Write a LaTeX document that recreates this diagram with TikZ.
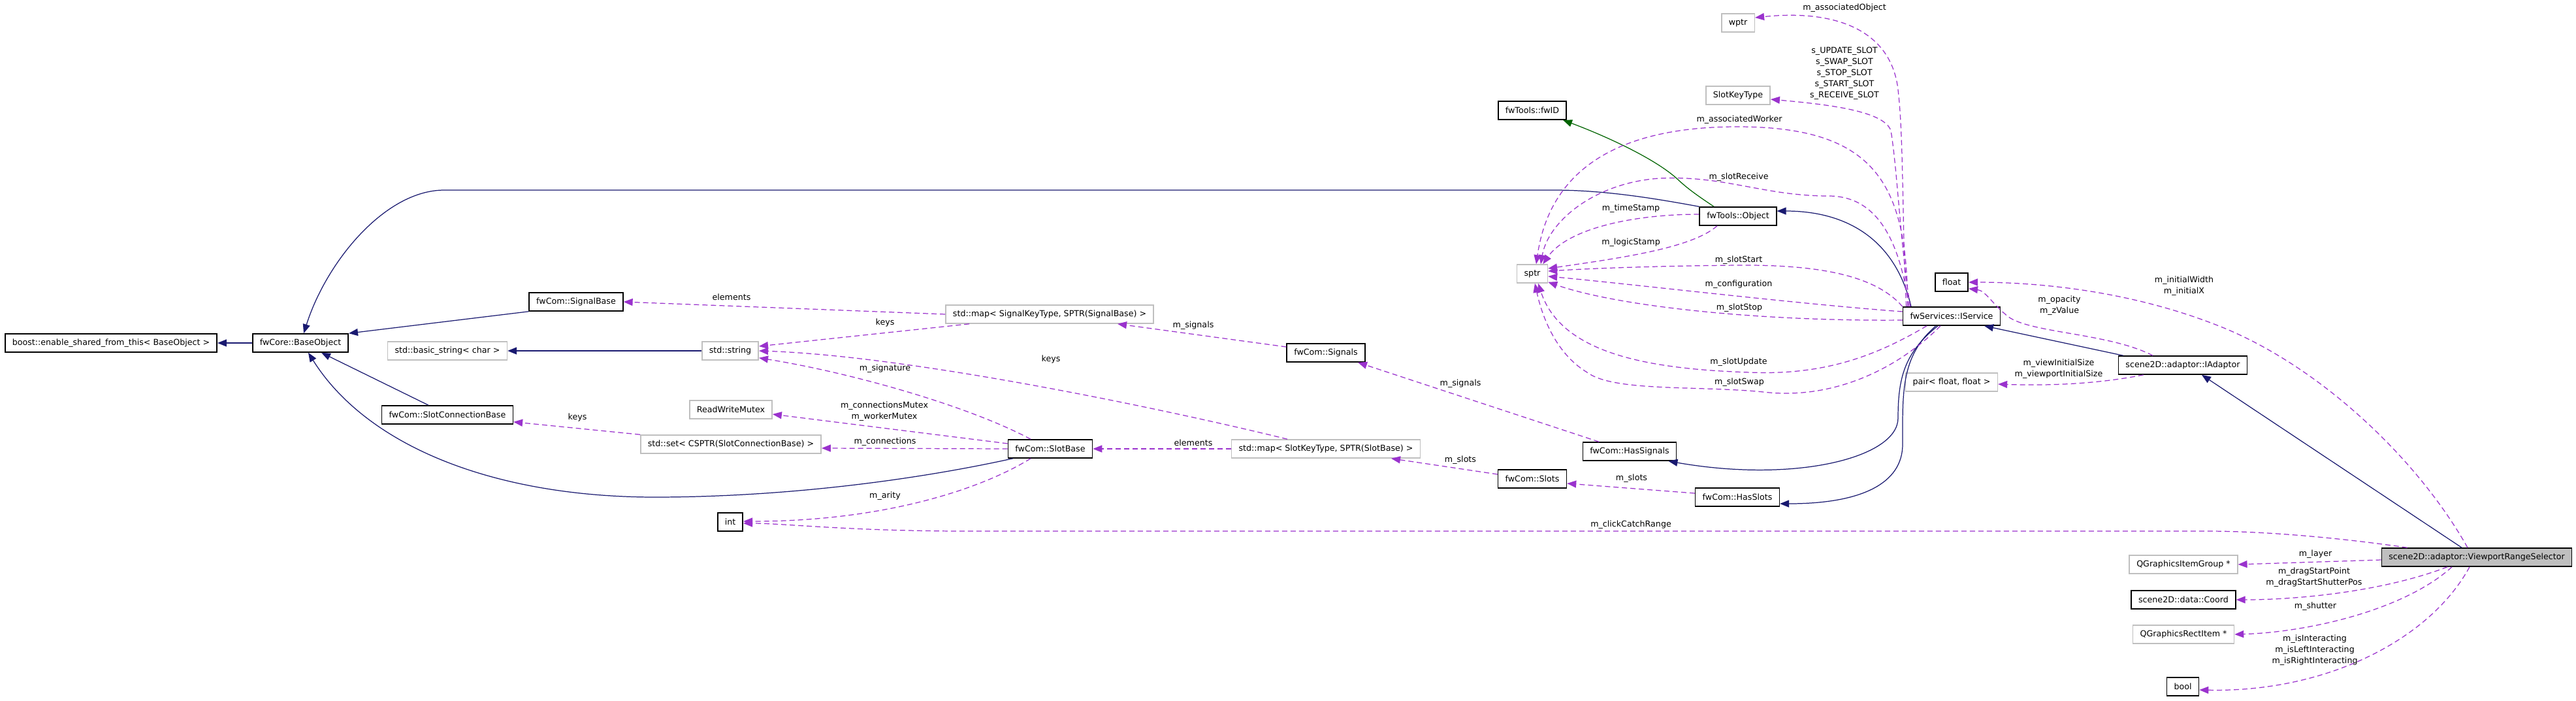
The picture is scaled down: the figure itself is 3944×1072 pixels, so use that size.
\documentclass[tikz,border=0pt]{standalone}
\usepackage{fontspec}
\setmainfont{DejaVu Sans}
\usetikzlibrary{arrows.meta, calc}
\definecolor{inhblue}{HTML}{191970}
\definecolor{inhgreen}{HTML}{006400}
\definecolor{usepurple}{HTML}{9A32CD}
\definecolor{boxgray}{HTML}{BFBFBF}

\begin{document}
\begin{tikzpicture}[x=0.1mm, y=-0.1mm,
    font=\fontsize{3.6}{4.85}\selectfont,
    class box/.style =
        {
            draw=black, line width=0.45pt, fill=white,
            minimum height=2.8mm, inner xsep=1.1mm, inner ysep=0pt
        },
    type box/.style = {class box, draw=boxgray},
    inherit line/.style =
        {
            draw=inhblue, line width=0.35pt,
            -{Stealth[length=1.4mm, width=1.1mm, inset=0pt]}
        },
    protected line/.style = {inherit line, draw=inhgreen},
    member line/.style =
        {
            draw=usepurple, line width=0.35pt, dash pattern=on 0.8mm off 0.5mm,
            -{Stealth[length=1.4mm, width=1.1mm, inset=0pt]}
        },
    member label/.style = {inner sep=0pt, align=center}]

      \path[fill=white, use as bounding box] (0,0) rectangle (3944,1072);

      % classes
      \node[class box] (boost) at (170,525) {boost::enable\_shared\_from\_this< BaseObject >};
      \node[class box] (baseobject) at (460,525) {fwCore::BaseObject};
      \node[class box] (signalbase) at (882,462) {fwCom::SignalBase};
      \node[type box] (basicstring) at (685,537) {std::basic\_string< char >};
      \node[class box] (slotconn) at (685,635) {fwCom::SlotConnectionBase};
      \node[type box] (stdstring) at (1118,537) {std::string};
      \node[type box] (mapsignal) at (1607,481) {std::map< SignalKeyType, SPTR(SignalBase) >};
      \node[type box] (rwmutex) at (1119,627) {ReadWriteMutex};
      \node[type box] (stdset) at (1119,680) {std::set< CSPTR(SlotConnectionBase) >};
      \node[class box] (slotbase) at (1608,687) {fwCom::SlotBase};
      \node[type box] (mapslot) at (2030,687) {std::map< SlotKeyType, SPTR(SlotBase) >};
      \node[class box] (int) at (1118,799) {int};
      \node[class box] (signals) at (2030,540) {fwCom::Signals};
      \node[class box] (hassignals) at (2495,691) {fwCom::HasSignals};
      \node[class box] (slots) at (2346,733) {fwCom::Slots};
      \node[class box] (hasslots) at (2660,761) {fwCom::HasSlots};
      \node[type box] (sptr) at (2346,419) {sptr};
      \node[class box] (fwid) at (2346,169) {fwTools::fwID};
      \node[class box] (object) at (2661,331) {fwTools::Object};
      \node[type box] (wptr) at (2661,35) {wptr};
      \node[type box] (slotkeytype) at (2661,146) {SlotKeyType};
      \node[class box] (iservice) at (2988,484) {fwServices::IService};
      \node[class box] (float) at (2988,432) {float};
      \node[type box] (pair) at (2988,585) {pair< float, float >};
      \node[class box] (iadaptor) at (3342,559) {scene2D::adaptor::IAdaptor};
      \node[class box, fill=boxgray] (viewport) at (3792,853) {scene2D::adaptor::ViewportRangeSelector};
      \node[type box] (qgigroup) at (3343,864) {QGraphicsItemGroup *};
      \node[class box] (coord) at (3343,918) {scene2D::data::Coord};
      \node[type box] (rectitem) at (3343,971) {QGraphicsRectItem *};
      \node[class box] (bool) at (3342,1051) {bool};

      % inheritance
      \draw[inherit line] (baseobject.west) -- (boost.east);
      \draw[inherit line] (signalbase.south west) -- (baseobject.north east);
      \draw[inherit line] (object.north west) .. controls (2540,305) and (2460,291) .. (2380,291)
            -- (680,291) .. controls (590,291) and (500,400) .. ($(baseobject.north)+(5,0)$);
      \draw[inherit line] (stdstring.west) -- (basicstring.east);
      \draw[inherit line] ($(slotconn.north)+(-29,0)$) -- ($(baseobject.south)+(32,0)$);
      \draw[inherit line] ($(slotbase.south west)+(8,0)$) .. controls (1400,735) and (1200,761) .. (1000,761)
            .. controls (750,760) and (560,680) .. ($(baseobject.south)+(12,0)$);
      \draw[inherit line] ($(iservice.north)+(-62,0)$) .. controls (2900,360) and (2820,323) .. ($(object.east)+(0,-8)$);
      \draw[inherit line] ($(iadaptor.north west)+(8,0)$) -- ($(iservice.south)+(50,0)$);
      \draw[inherit line] ($(iservice.south)+(-21,0)$) .. controls (2915,540) and (2906,580) .. (2906,640)
            .. controls (2906,700) and (2750,740) .. ($(hassignals.south east)+(-13,0)$);
      \draw[inherit line] ($(iservice.south)+(-24,0)$) .. controls (2910,545) and (2913,600) .. (2913,680)
            .. controls (2913,740) and (2850,771) .. ($(hasslots.east)+(0,10)$);
      \draw[inherit line] ($(viewport.north)+(-23,0)$) -- ($(iadaptor.south)+(29,0)$);
      \draw[protected line] ($(object.north)+(-37,0)$) .. controls (2600,300) and (2585,290) .. (2567,273)
            .. controls (2530,240) and (2450,205) .. ($(fwid.south east)+(-6,0)$);

      % members of the signal and slot classes
      \draw[member line] (mapsignal.west) -- (signalbase.east)
            node[member label] at (1120,455) {elements};
      \draw[member line] ($(mapsignal.south west)+(37,0)$) -- ($(stdstring.east)+(0,-7)$)
            node[member label] at (1355,494) {keys};
      \draw[member line] ($(signals.west)+(0,-9)$) -- ($(mapsignal.south)+(104,0)$)
            node[member label] at (1827,498) {m\_signals};
      \draw[member line] ($(hassignals.north)+(-47,0)$) -- ($(signals.south)+(49,0)$)
            node[member label] at (2236,587) {m\_signals};
      \draw[member line] (stdset.north west) -- ($(slotconn.south east)+(0,-4)$)
            node[member label] at (884,639) {keys};
      \draw[member line] ($(slotbase.north)+(-30,0)$) .. controls (1480,620) and (1300,570) .. ($(stdstring.south east)+(0,-4)$)
            node[member label] at (1355,564) {m\_signature};
      \draw[member line] ($(slotbase.west)+(0,-8)$) -- ($(rwmutex.east)+(0,7)$)
            node[member label] at (1354,630) {m\_connectionsMutex\\m\_workerMutex};
      \draw[member line] (slotbase.west) -- ($(stdset.east)+(0,6)$)
            node[member label] at (1355,676) {m\_connections};
      \draw[member line] (mapslot.west) -- (slotbase.east)
            node[member label] at (1827,678) {elements};
      \draw[member line] ($(mapslot.north)+(-59,0)$) .. controls (1800,630) and (1400,545) .. (stdstring.east)
            node[member label] at (1609,550) {keys};
      \draw[member line] ($(slotbase.south)+(-30,0)$) .. controls (1500,750) and (1350,798) .. ($(int.east)+(0,-1)$)
            node[member label] at (1355,759) {m\_arity};
      \draw[member line] ($(viewport.north west)+(40,0)$) .. controls (3560,820) and (3450,813) .. (3380,813)
            -- (1480,813) .. controls (1300,813) and (1200,801) .. ($(int.east)+(0,2)$)
            node[member label] at (2497,803) {m\_clickCatchRange};
      \draw[member line] ($(slots.west)+(0,-7)$) -- ($(mapslot.south)+(100,0)$)
            node[member label] at (2236,704) {m\_slots};
      \draw[member line] ($(hasslots.west)+(0,-6)$) -- ($(slots.east)+(0,7)$)
            node[member label] at (2498,732) {m\_slots};

      % members pointing at sptr
      \draw[member line] ($(iservice.north west)+(8,0)$) .. controls (2920,280) and (2870,194) .. (2660,194)
            .. controls (2450,194) and (2370,280) .. ($(sptr.north)+(6,0)$)
            node[member label] at (2663,183) {m\_associatedWorker};
      \draw[member line] ($(iservice.north west)+(10,0)$) .. controls (2910,380) and (2880,300) .. (2800,300)
            .. controls (2700,300) and (2640,268) .. (2540,273)
            .. controls (2440,280) and (2370,340) .. ($(sptr.north)+(13,0)$)
            node[member label] at (2662,271) {m\_slotReceive};
      \draw[member line] ($(object.west)+(0,-3)$) .. controls (2500,328) and (2400,350) .. ($(sptr.north east)+(-8,0)$)
            node[member label] at (2497,319) {m\_timeStamp};
      \draw[member line] ($(object.south)+(-32,0)$) .. controls (2590,380) and (2480,395) .. ($(sptr.east)+(0,-8)$)
            node[member label] at (2497,371) {m\_logicStamp};
      \draw[member line] (iservice.north west) .. controls (2870,420) and (2780,405) .. (2660,406)
            .. controls (2550,407) and (2450,410) .. ($(sptr.east)+(0,-4)$)
            node[member label] at (2662,398) {m\_slotStart};
      \draw[member line] ($(iservice.west)+(0,-7)$) .. controls (2750,465) and (2500,435) .. ($(sptr.east)+(0,4)$)
            node[member label] at (2662,435) {m\_configuration};
      \draw[member line] ($(iservice.west)+(0,6)$) .. controls (2700,492) and (2480,470) .. ($(sptr.south east)+(0,-2)$)
            node[member label] at (2663,471) {m\_slotStop};
      \draw[member line] ($(iservice.south)+(-38,0)$) .. controls (2880,540) and (2800,575) .. (2680,570)
            .. controls (2520,565) and (2390,540) .. ($(sptr.south)+(9,0)$)
            node[member label] at (2662,554) {m\_slotUpdate};
      \draw[member line] ($(iservice.south)+(-17,0)$) .. controls (2900,570) and (2800,612) .. (2700,600)
            .. controls (2600,590) and (2470,600) .. (2430,570)
            .. controls (2380,540) and (2360,480) .. ($(sptr.south)+(4,0)$)
            node[member label] at (2663,585) {m\_slotSwap};

      % other members of the service
      \draw[member line] ($(iservice.north west)+(6,0)$) .. controls (2912,350) and (2915,200) .. (2905,130)
            .. controls (2890,40) and (2800,15) .. ($(wptr.east)+(0,-8)$)
            node[member label] at (2824,12) {m\_associatedObject};
      \draw[member line] ($(iservice.north west)+(12,0)$) .. controls (2910,380) and (2905,260) .. (2895,200)
            .. controls (2885,170) and (2800,160) .. ($(slotkeytype.east)+(0,6)$)
            node[member label] at (2824,112) {s\_UPDATE\_SLOT\\s\_SWAP\_SLOT\\s\_STOP\_SLOT\\s\_START\_SLOT\\s\_RECEIVE\_SLOT};

      % members of the adaptors
      \draw[member line] ($(iadaptor.north)+(-46,0)$) .. controls (3230,510) and (3110,510) .. (3075,485)
            .. controls (3050,465) and (3040,445) .. ($(float.south east)+(0,-5)$)
            node[member label] at (3153,468) {m\_opacity\\m\_zValue};
      \draw[member line] ($(viewport.north)+(-14,0)$) .. controls (3700,700) and (3550,560) .. (3400,500)
            .. controls (3250,440) and (3100,432) .. (float.east)
            node[member label] at (3344,438) {m\_initialWidth\\m\_initialX};
      \draw[member line] ($(iadaptor.south west)+(39,0)$) .. controls (3200,590) and (3120,590) .. ($(pair.east)+(0,3)$)
            node[member label] at (3152,565) {m\_viewInitialSize\\m\_viewportInitialSize};
      \draw[member line] ($(viewport.west)+(0,4)$) -- (qgigroup.east)
            node[member label] at (3545,848) {m\_layer};
      \draw[member line] ($(viewport.south)+(-45,0)$) .. controls (3650,905) and (3520,918) .. (coord.east)
            node[member label] at (3543,884) {m\_dragStartPoint\\m\_dragStartShutterPos};
      \draw[member line] ($(viewport.south)+(-38,0)$) .. controls (3680,935) and (3530,968) .. (rectitem.east)
            node[member label] at (3545,928) {m\_shutter};
      \draw[member line] ($(viewport.south)+(-11,0)$) .. controls (3720,980) and (3560,1060) .. ($(bool.east)+(0,5)$)
            node[member label] at (3544,995) {m\_isInteracting\\m\_isLeftInteracting\\m\_isRightInteracting};
    \end{tikzpicture}
\end{document}
